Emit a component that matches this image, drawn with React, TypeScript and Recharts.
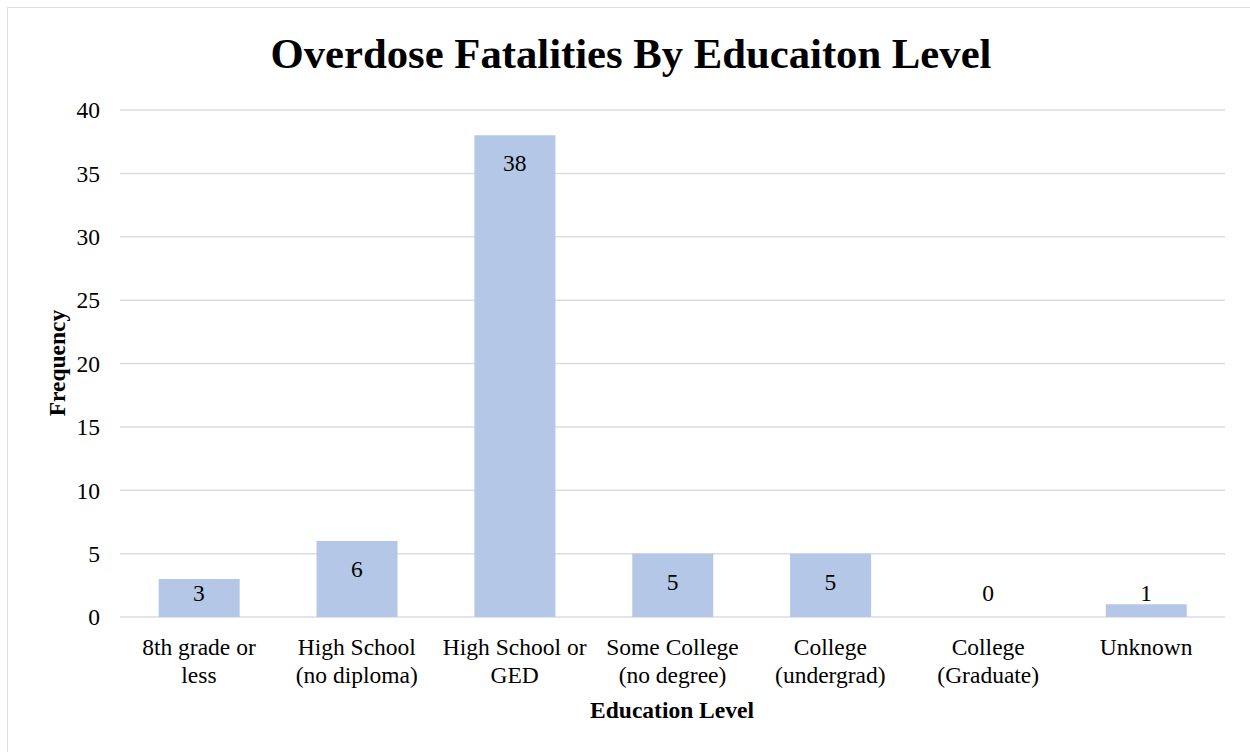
import * as R from 'recharts'
import { ComposedChart, Bar, Line, XAxis, YAxis, CartesianGrid, LabelList } from 'recharts'

const categories = [
  '8th grade or|less',
  'High School|(no diploma)',
  'High School or|GED',
  'Some College|(no degree)',
  'College|(undergrad)',
  'College|(Graduate)',
  'Unknown',
]
const frequency = [3, 6, 38, 5, 5, 0, 1]
const yTicks = [0, 5, 10, 15, 20, 25, 30, 35, 40]

const data = categories.map((c, i) => ({ level: c, value: frequency[i] }))

const FONT = '"Liberation Serif", "Times New Roman", serif'
const usePlotArea: any = (R as any).usePlotArea

function CategoryTick(props: any) {
  const { x, y, payload } = props
  const lines = String(payload.value).split('|')
  return (
    <g transform={`translate(${x},${y})`}>
      {lines.map((l, i) => (
        <text key={i} x={0} y={i * 28} dy={17} textAnchor="middle" fill="#000" fontSize={23.5} fontFamily={FONT}>
          {l}
        </text>
      ))}
    </g>
  )
}

// label drawn from the line point (bar top); kept inside the bar, or just above short bars
function ValueLabel(props: any) {
  const { x, y, value } = props
  const plot = usePlotArea ? usePlotArea() : null
  const bottom = plot ? plot.y + plot.height : 617
  const cy = Math.min(y + 28, bottom - 24)
  return (
    <text x={x} y={cy} textAnchor="middle" dominantBaseline="central" fontSize={23.5} fontFamily={FONT} fill="#000">
      {String(value)}
    </text>
  )
}

export default function App() {
  return (
    <div style={{ position: 'absolute', left: 0, top: 0, width: 1250, height: 752, background: '#fff' }}>
      <div style={{ position: 'absolute', left: 7, top: 7, width: 1250, height: 760, border: '1px solid #d9dde3' }} />
      <div style={{ position: 'absolute', left: 0, top: 0 }}>
        <ComposedChart width={1250} height={752} data={data} margin={{ top: 110, right: 25, left: 30, bottom: 105 }} barCategoryGap="24.5%">
          <text x={631} y={53} textAnchor="middle" dominantBaseline="central" fontSize={42.7} fontWeight="bold" fontFamily={FONT} fill="#000">
            Overdose Fatalities By Educaiton Level
          </text>
          <text x={57} y={363} transform="rotate(-90 57 363)" textAnchor="middle" dominantBaseline="central" fontSize={23.5} fontWeight="bold" fontFamily={FONT} fill="#000">
            Frequency
          </text>
          <text x={672} y={710} textAnchor="middle" dominantBaseline="central" fontSize={23.5} fontWeight="bold" fontFamily={FONT} fill="#000">
            Education Level
          </text>
          <CartesianGrid vertical={false} stroke="#d9dde3" strokeWidth={1.5} />
          <XAxis dataKey="level" axisLine={false} tickLine={false} tickSize={0} tickMargin={21} interval={0} tick={<CategoryTick />} />
          <YAxis
            width={90}
            domain={[0, 40]}
            ticks={yTicks}
            axisLine={false}
            tickLine={false}
            tickSize={0}
            tickMargin={20}
            tick={{ fontSize: 23.5, fill: '#000', fontFamily: FONT }}
          />
          <Bar dataKey="value" fill="#b4c7e7" isAnimationActive={false} />
          <Line dataKey="value" stroke="none" dot={false} activeDot={false} isAnimationActive={false}>
            <LabelList dataKey="value" content={<ValueLabel />} />
          </Line>
        </ComposedChart>
      </div>
    </div>
  )
}
